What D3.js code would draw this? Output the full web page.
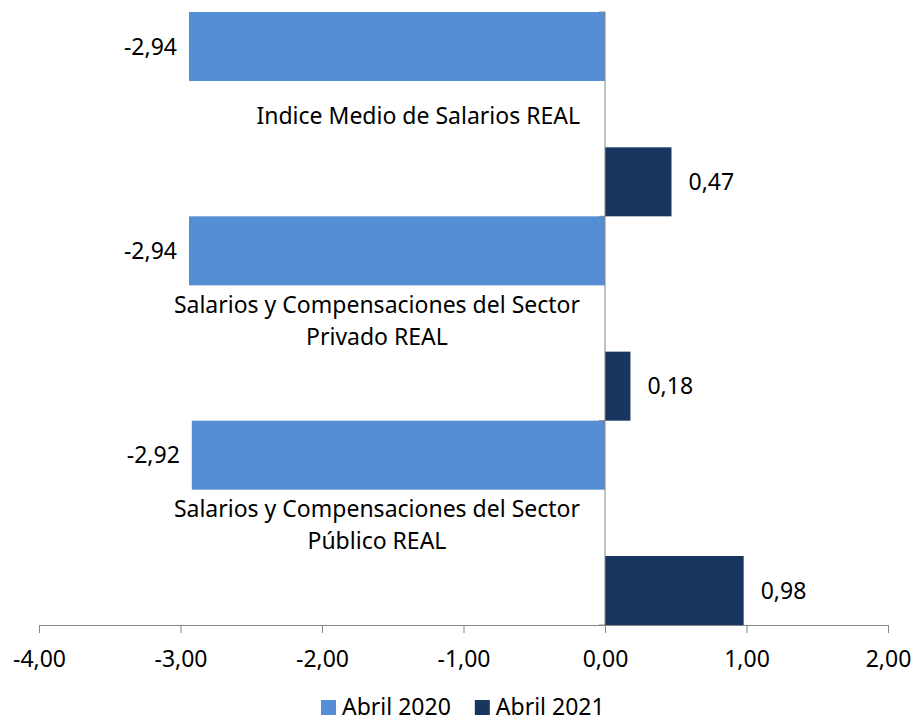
<!DOCTYPE html>
<html lang="es">
<head>
<meta charset="utf-8">
<script src="https://d3js.org/d3.v7.min.js"></script>
<title>Salarios REAL</title>
<style>
  body { margin: 0; background: #fff; }
  text { font-family: "Noto Sans", sans-serif; fill: #000; }
</style>
</head>
<body>
<div id="chart"></div>
<script>
const categories = ["Indice Medio de Salarios REAL",
                    "Salarios y Compensaciones del Sector Privado REAL",
                    "Salarios y Compensaciones del Sector Público REAL"]
const categoryLines = [["Indice Medio de Salarios REAL"],
                       ["Salarios y Compensaciones del Sector", "Privado REAL"],
                       ["Salarios y Compensaciones del Sector", "Público REAL"]]
const seriesNames = ["Abril 2020", "Abril 2021"]
const abril2020 = [-2.94, -2.94, -2.92]
const abril2021 = [0.47, 0.18, 0.98]
const xTicks = [-4, -3, -2, -1, 0, 1, 2]

const width = 915
const height = 725
const fontSize = 23
const colors = ["#558ED5", "#17375E"]

const locale = d3.formatLocale({decimal: ",", thousands: ".", grouping: [3], currency: ["", ""], minus: "-"})
const fmt = locale.format(".2f")

const rows = []
categories.forEach((c, i) => {
  rows.push({cat: c, series: seriesNames[0], value: abril2020[i]})
  rows.push({cat: c, series: seriesNames[1], value: abril2021[i]})
})

const svg = d3.select("#chart").append("svg")
  .attr("width", width).attr("height", height)

const x = d3.scaleLinear().domain([-4, 2]).range([39, 888])
const y = d3.scaleBand().domain(categories).range([12, 625])
const ySub = d3.scaleBand().domain(seriesNames).range([0, y.bandwidth()]).paddingInner(0.49)
const color = d3.scaleOrdinal(seriesNames, colors)

// bars
svg.append("g").selectAll("rect")
  .data(rows)
  .join("rect")
  .attr("x", d => x(Math.min(0, d.value)))
  .attr("width", d => Math.abs(x(d.value) - x(0)))
  .attr("y", d => y(d.cat) + ySub(d.series))
  .attr("height", ySub.bandwidth())
  .attr("fill", d => color(d.series))

// value labels
svg.append("g").selectAll("text")
  .data(rows)
  .join("text")
  .attr("x", d => d.value < 0 ? x(d.value) - 12 : x(d.value) + 17)
  .attr("y", d => y(d.cat) + ySub(d.series) + ySub.bandwidth() / 2)
  .attr("dy", "0.35em")
  .attr("text-anchor", d => d.value < 0 ? "end" : "start")
  .attr("font-size", fontSize)
  .text(d => fmt(d.value))

// x axis
svg.append("g")
  .attr("transform", `translate(0,${y.range()[1]})`)
  .call(d3.axisBottom(x).tickValues(xTicks).tickFormat(fmt).tickSize(8).tickSizeOuter(0).tickPadding(18))
  .call(g => g.select(".domain").attr("stroke", "#868686"))
  .call(g => g.selectAll(".tick line").attr("stroke", "#868686"))
  .call(g => g.selectAll(".tick text").attr("font-size", fontSize).attr("font-family", "Noto Sans"))

// category axis at zero
const catAxis = svg.append("g")
catAxis.append("line")
  .attr("x1", x(0)).attr("x2", x(0))
  .attr("y1", y.range()[0]).attr("y2", y.range()[1])
  .attr("stroke", "#868686")
catAxis.selectAll(".cat-tick")
  .data(categories.map(c => y(c)).concat([y.range()[1]]))
  .join("line")
  .attr("x1", x(0) - 6).attr("x2", x(0))
  .attr("y1", d => d).attr("y2", d => d)
  .attr("stroke", "#868686")

const lineH = 32
categories.forEach((c, i) => {
  const lines = categoryLines[i]
  const cy = y(c) + y.bandwidth() / 2 + 2
  const t = catAxis.append("text")
    .attr("font-size", fontSize)
    .attr("text-anchor", "middle")
  lines.forEach((ln, j) => {
    t.append("tspan")
      .attr("y", cy + (j - (lines.length - 1) / 2) * lineH)
      .attr("dy", "0.35em")
      .text(ln)
  })
  // right edge of the widest line sits 25px left of the zero line
  const w = d3.max(t.selectAll("tspan").nodes(), n => n.getComputedTextLength())
  t.selectAll("tspan").attr("x", x(0) - 25 - w / 2)
})

// legend
const legend = svg.append("g").attr("transform", "translate(321,700)")
let lx = 0
seriesNames.forEach((s, i) => {
  const item = legend.append("g").attr("transform", `translate(${lx},0)`)
  item.append("rect").attr("width", 15).attr("height", 15).attr("fill", color(s))
  const tx = item.append("text")
    .attr("x", 21).attr("y", 15)
    .attr("font-size", fontSize)
    .text(s)
  lx += 21 + tx.node().getComputedTextLength() + 24
})
</script>
</body>
</html>
